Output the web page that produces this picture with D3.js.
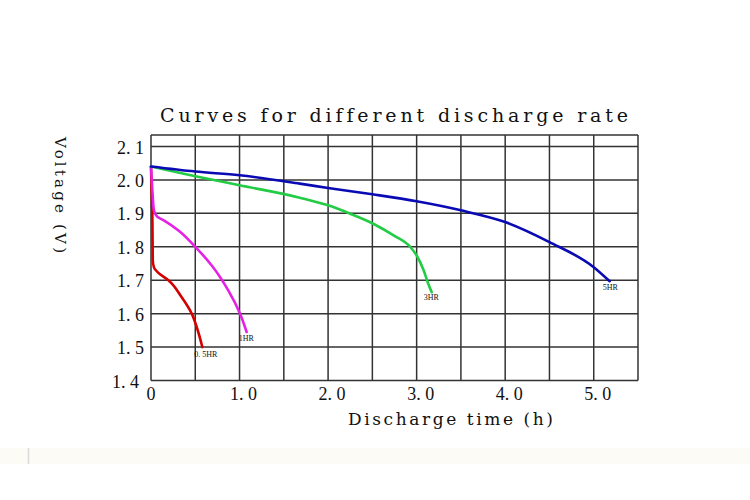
<!DOCTYPE html>
<html>
<head>
<meta charset="utf-8">
<script src="https://cdn.jsdelivr.net/npm/d3@7"></script>
<style>
  body { margin: 0; background: #fff; }
  svg text { font-family: "Liberation Serif", "DejaVu Serif", serif; fill: #111; font-variant-ligatures: none; }
  svg text.title { font-family: "DejaVu Serif", serif; }
</style>
</head>
<body>
<div id="chart"></div>
<script>
// Discharge curves (time in h, voltage in V)
const rate05 = [[0, 2.04], [0.008, 1.96], [0.015, 1.90], [0.02, 1.76], [0.035, 1.737], [0.083, 1.722],
  [0.196, 1.70], [0.347, 1.649], [0.46, 1.60], [0.516, 1.56], [0.58, 1.50]];
const rate1 = [[0, 2.04], [0.02, 1.95], [0.032, 1.91], [0.07, 1.89], [0.158, 1.877], [0.31, 1.849],
  [0.50, 1.80], [0.686, 1.744], [0.874, 1.669], [1.006, 1.60], [1.08, 1.545]];
const rate3 = [[0, 2.04], [0.5, 2.011], [1.0, 1.984], [1.68, 1.947], [2.0, 1.924], [2.25, 1.899],
  [2.51, 1.869], [2.74, 1.834], [2.93, 1.799], [3.0, 1.774], [3.08, 1.729], [3.13, 1.69], [3.17, 1.664]];
const rate5 = [[0, 2.04], [0.5, 2.025], [1.0, 2.014], [1.68, 1.989], [2.0, 1.976], [2.5, 1.957],
  [3.0, 1.936], [3.5, 1.909], [4.0, 1.874], [4.5, 1.814], [5.0, 1.739], [5.18, 1.697]];

const seriesNames = ["0. 5HR", "1HR", "3HR", "5HR"];
const seriesData = [rate05, rate1, rate3, rate5];
const seriesColors = ["#d40000", "#e620e6", "#22cc44", "#0a0ab4"];

const xGrid = d3.range(0, 5.51, 0.5);
const yGrid = [1.4, 1.5, 1.6, 1.7, 1.8, 1.9, 2.0, 2.1];
const xTicks = [1, 2, 3, 4, 5];

const width = 750;
const height = 500;

const svg = d3.select("#chart")
  .append("svg")
  .attr("width", width)
  .attr("height", height);

// faint strip near the bottom of the photo
svg.append("rect").attr("x", 0).attr("y", 448).attr("width", width).attr("height", 16).attr("fill", "#fdfbf6");
svg.append("line").attr("x1", 28.5).attr("x2", 28.5).attr("y1", 448).attr("y2", 464)
  .attr("stroke", "#d8d8d8").attr("stroke-width", 1.5);

const x = d3.scaleLinear().domain([0, 5.5]).range([151, 638]);
const y = d3.scaleLinear().domain([1.4, 2.1]).range([380.5, 146.5]);
const yTop = 135; // frame goes a bit above 2.1

const fmt = v => d3.format(".1f")(v).replace(".", ". ");

// Grid
const grid = svg.append("g").attr("class", "grid")
  .attr("stroke", "#333").attr("stroke-width", 1.5);

grid.selectAll("line.v").data(xGrid).enter()
  .append("line")
  .attr("class", "v")
  .attr("x1", d => x(d)).attr("x2", d => x(d))
  .attr("y1", yTop).attr("y2", y(1.4));

grid.selectAll("line.h").data(yGrid).enter()
  .append("line")
  .attr("class", "h")
  .attr("x1", x(0)).attr("x2", x(5.5))
  .attr("y1", d => y(d)).attr("y2", d => y(d));

grid.append("line")
  .attr("x1", x(0)).attr("x2", x(5.5))
  .attr("y1", yTop).attr("y2", yTop);

// Curves: steep ones follow y, flat ones follow x
const lineX = d3.line()
  .x(d => x(d[0]))
  .y(d => y(d[1]))
  .curve(d3.curveMonotoneX);

const lineY = d3.line()
  .x(d => x(d[0]))
  .y(d => y(d[1]))
  .curve(d3.curveMonotoneY);

svg.append("g").selectAll("path").data(seriesData).enter()
  .append("path")
  .attr("d", (d, i) => i < 2 ? lineY(d) : lineX(d))
  .attr("fill", "none")
  .attr("stroke", (d, i) => seriesColors[i])
  .attr("stroke-width", 2.6)
  .attr("stroke-linejoin", "round")
  .attr("stroke-linecap", "round");

// Curve labels near each end
const labelOffsets = [[-8, 10], [-8, 9], [-8, 8], [-7, 9]];
svg.append("g").selectAll("text").data(seriesData).enter()
  .append("text")
  .attr("x", (d, i) => x(d[d.length - 1][0]) + labelOffsets[i][0])
  .attr("y", (d, i) => y(d[d.length - 1][1]) + labelOffsets[i][1])
  .attr("font-size", "8px")
  .attr("fill", "#333")
  .text((d, i) => seriesNames[i]);

// Y tick labels
svg.append("g").selectAll("text").data(yGrid).enter()
  .append("text")
  .attr("x", d => d === 1.4 ? 139 : 144)
  .attr("y", d => y(d) + 7)
  .attr("text-anchor", "end")
  .attr("font-size", "18px")
  .text(d => fmt(d));

// X tick labels
svg.append("g").selectAll("text").data(xTicks).enter()
  .append("text")
  .attr("x", d => x(d) + 4)
  .attr("y", 400)
  .attr("text-anchor", "middle")
  .attr("font-size", "18px")
  .text(d => fmt(d));

svg.append("text")
  .attr("x", x(0))
  .attr("y", 400)
  .attr("text-anchor", "middle")
  .attr("font-size", "18px")
  .text("0");

// Titles
svg.append("text")
  .attr("class", "title")
  .attr("x", 160)
  .attr("y", 122)
  .attr("font-size", "19px")
  .attr("textLength", 468)
  .attr("lengthAdjust", "spacing")
  .text("Curves for different discharge rate");

svg.append("text")
  .attr("class", "title")
  .attr("x", 348)
  .attr("y", 425)
  .attr("font-size", "17px")
  .attr("textLength", 205)
  .attr("lengthAdjust", "spacing")
  .text("Discharge time (h)");

svg.append("text")
  .attr("class", "title")
  .attr("transform", "translate(55,137) rotate(90)")
  .attr("font-size", "15px")
  .attr("textLength", 116)
  .attr("lengthAdjust", "spacing")
  .text("Voltage (V)");
</script>
</body>
</html>
